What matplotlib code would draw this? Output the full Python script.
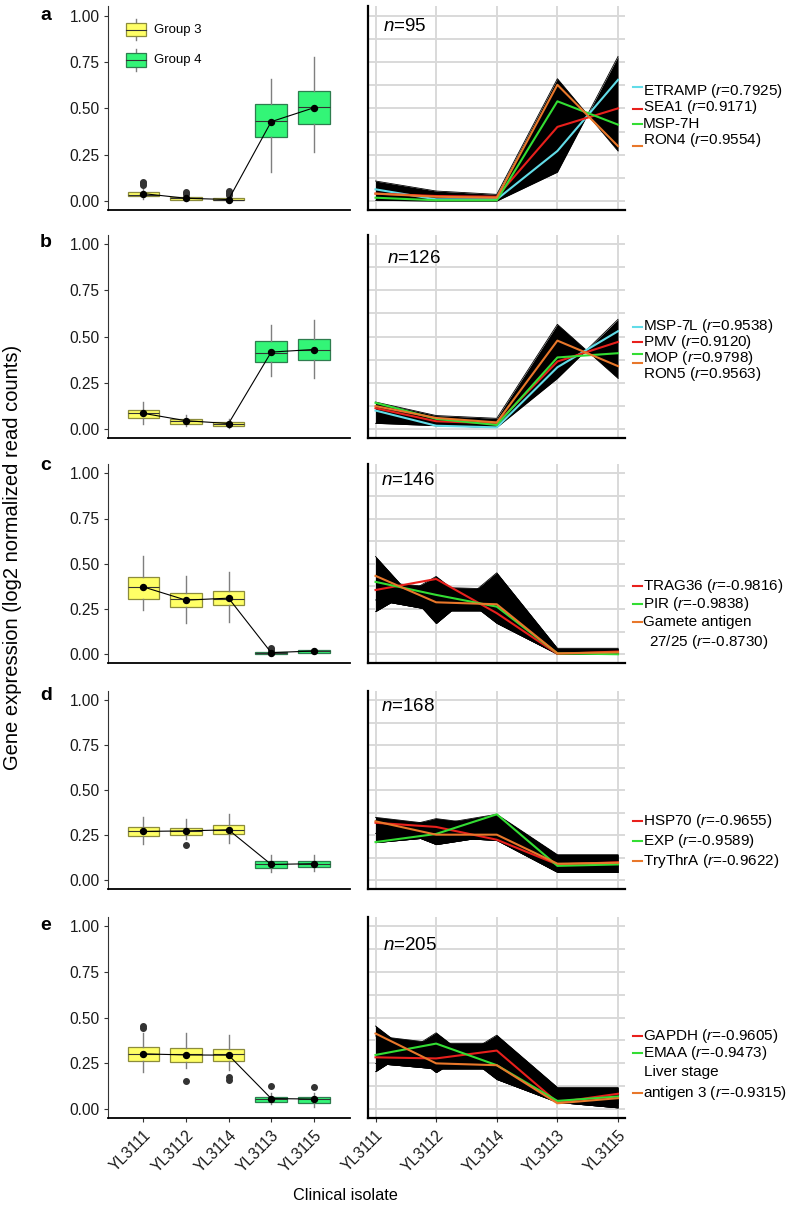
import matplotlib
matplotlib.use("Agg")
import matplotlib.pyplot as plt
from matplotlib.patches import Rectangle
from matplotlib.lines import Line2D
from itertools import combinations
import numpy as np

plt.rcParams['font.family'] = ['Liberation Sans', 'DejaVu Sans']
plt.rcParams['mathtext.fontset'] = 'custom'
plt.rcParams['mathtext.it'] = 'Liberation Sans:italic'
plt.rcParams['mathtext.rm'] = 'Liberation Sans'

W, H = 797, 1206

isolates = ['YL3111', 'YL3112', 'YL3114', 'YL3113', 'YL3115']
panel_ids = ['a', 'b', 'c', 'd', 'e']
gene_counts = [95, 126, 146, 168, 205]

# boxplot stats per isolate: (whisker low, q1, median, q3, whisker high)
box_a = [(0.01, 0.025, 0.035, 0.05, 0.075), (0.0, 0.008, 0.015, 0.022, 0.035),
         (0.0, 0.003, 0.008, 0.015, 0.025), (0.155, 0.344, 0.433, 0.523, 0.658),
         (0.266, 0.416, 0.506, 0.594, 0.779)]
out_a = [[0.085, 0.095, 0.105], [0.04, 0.048], [0.035, 0.045, 0.055], [], []]
mean_a = [0.04, 0.015, 0.008, 0.428, 0.503]

box_b = [(0.03, 0.06, 0.085, 0.103, 0.148), (0.014, 0.03, 0.043, 0.054, 0.078),
         (0.005, 0.014, 0.027, 0.04, 0.057), (0.289, 0.361, 0.41, 0.474, 0.564),
         (0.275, 0.374, 0.43, 0.486, 0.591)]
out_b = [[], [], [], [], []]
mean_b = [0.085, 0.045, 0.03, 0.416, 0.43]

box_c = [(0.244, 0.308, 0.369, 0.428, 0.545), (0.174, 0.261, 0.303, 0.339, 0.435),
         (0.178, 0.27, 0.306, 0.349, 0.453), (0.0, 0.004, 0.008, 0.015, 0.02),
         (0.005, 0.009, 0.017, 0.024, 0.03)]
out_c = [[], [], [], [0.025, 0.035], []]
mean_c = [0.372, 0.299, 0.31, 0.009, 0.018]

box_d = [(0.203, 0.245, 0.273, 0.297, 0.352), (0.227, 0.252, 0.273, 0.291, 0.341),
         (0.208, 0.256, 0.28, 0.304, 0.366), (0.048, 0.068, 0.088, 0.107, 0.14),
         (0.052, 0.072, 0.092, 0.107, 0.138)]
out_d = [[], [0.197], [], [], []]
mean_d = [0.271, 0.274, 0.28, 0.088, 0.092]

box_e = [(0.205, 0.264, 0.302, 0.338, 0.415), (0.227, 0.26, 0.302, 0.333, 0.418),
         (0.215, 0.265, 0.3, 0.327, 0.405), (0.03, 0.038, 0.055, 0.069, 0.087),
         (0.011, 0.035, 0.055, 0.069, 0.087)]
out_e = [[0.445, 0.455], [0.155], [0.16, 0.173], [0.124], [0.12]]
mean_e = [0.302, 0.296, 0.295, 0.058, 0.055]

# outer profiles of the black line bundles (n genes per cluster)
bundle_a = [[0.108, 0.054, 0.036, 0.66, 0.27], [0.004, 0.0, 0.0, 0.156, 0.78]]
bundle_b = [[0.146, 0.073, 0.058, 0.566, 0.274], [0.031, 0.018, 0.009, 0.274, 0.593]]
bundle_c = [[0.54, 0.17, 0.45, 0.033, 0.033], [0.236, 0.43, 0.171, 0.0, 0.0],
            [0.40, 0.37, 0.36, 0.02, 0.02], [0.30, 0.24, 0.24, 0.01, 0.015]]
bundle_d = [[0.349, 0.31, 0.366, 0.142, 0.142], [0.209, 0.24, 0.221, 0.044, 0.044],
            [0.26, 0.342, 0.30, 0.10, 0.10], [0.33, 0.198, 0.25, 0.08, 0.08]]
bundle_e = [[0.454, 0.20, 0.404, 0.119, 0.119], [0.205, 0.417, 0.162, 0.037, 0.007],
            [0.40, 0.36, 0.36, 0.10, 0.10], [0.25, 0.22, 0.22, 0.05, 0.03]]

# highlighted genes
cyan, red, green, orange = '#62DCE8', '#E8201C', '#33DD33', '#E8772A'
genes_a = [('ETRAMP', cyan, [0.063, 0.009, 0.009, 0.27, 0.654]),
           ('SEA1', red, [0.04, 0.027, 0.023, 0.40, 0.50]),
           ('MSP-7H', green, [0.018, 0.004, 0.004, 0.538, 0.412]),
           ('RON4', orange, [0.04, 0.023, 0.018, 0.627, 0.296])]
genes_b = [('MSP-7L', cyan, [0.10, 0.018, 0.009, 0.334, 0.529]),
           ('PMV', red, [0.113, 0.042, 0.031, 0.365, 0.471]),
           ('MOP', green, [0.142, 0.055, 0.022, 0.387, 0.41]),
           ('RON5', orange, [0.124, 0.06, 0.036, 0.478, 0.34])]
genes_c = [('TRAG36', red, [0.355, 0.416, 0.227, 0.002, 0.015]),
           ('PIR', green, [0.40, 0.328, 0.263, 0.005, 0.0]),
           ('Gamete antigen 27/25', orange, [0.433, 0.287, 0.276, 0.005, 0.011])]
genes_d = [('HSP70', red, [0.319, 0.296, 0.225, 0.088, 0.10]),
           ('EXP', green, [0.212, 0.257, 0.366, 0.08, 0.088]),
           ('TryThrA', orange, [0.327, 0.253, 0.253, 0.092, 0.097])]
genes_e = [('GAPDH', red, [0.283, 0.277, 0.32, 0.037, 0.084]),
           ('EMAA', green, [0.296, 0.358, 0.24, 0.045, 0.069]),
           ('Liver stage antigen 3', orange, [0.413, 0.25, 0.24, 0.032, 0.06])]

# legend text: (text, marker colour or None, text y px, marker y px, text x px)
legend_a = [('ETRAMP ($r$=0.7925)', cyan, 90.5, 87.3, 643),
            ('SEA1 ($r$=0.9171)', red, 107, 109.3, 643),
            ('MSP-7H', green, 123.5, 124, 643),
            ('RON4 ($r$=0.9554)', orange, 140, 146, 643)]
legend_b = [('MSP-7L ($r$=0.9538)', cyan, 326, 326.7, 643),
            ('PMV ($r$=0.9120)', red, 342, 342.3, 643),
            ('MOP ($r$=0.9798)', green, 358, 354, 643),
            ('RON5 ($r$=0.9563)', orange, 374, 363.3, 643)]
legend_c = [('TRAG36 ($r$=-0.9816)', red, 586, 586, 643),
            ('PIR ($r$=-0.9838)', green, 604.3, 604.3, 643),
            ('Gamete antigen', orange, 622.3, 622.3, 643),
            ('27/25 ($r$=-0.8730)', None, 641.7, 0, 649.3)]
legend_d = [('HSP70 ($r$=-0.9655)', red, 821, 821, 643),
            ('EXP ($r$=-0.9589)', green, 841, 841, 643),
            ('TryThrA ($r$=-0.9622)', orange, 861, 861, 643)]
legend_e = [('GAPDH ($r$=-0.9605)', red, 1036, 1036, 643),
            ('EMAA ($r$=-0.9473)', green, 1053.3, 1053.3, 643),
            ('Liver stage', None, 1071.7, 0, 644.3),
            ('antigen 3 ($r$=-0.9315)', orange, 1092.7, 1092.7, 643)]

boxes = [box_a, box_b, box_c, box_d, box_e]
outs = [out_a, out_b, out_c, out_d, out_e]
means = [mean_a, mean_b, mean_c, mean_d, mean_e]
bundles = [bundle_a, bundle_b, bundle_c, bundle_d, bundle_e]
genes = [genes_a, genes_b, genes_c, genes_d, genes_e]
legends = [legend_a, legend_b, legend_c, legend_d, legend_e]

# vertical extent of each row (px) and label positions
rows = [(6.4, 210.3), (234.8, 438.3), (464.2, 663.3), (691, 889.3), (916.9, 1118.3)]
letter_y = [20, 246.7, 470, 700, 930]
n_pos = [(383, 26.7), (386.7, 258.3), (380.7, 480.7), (380.7, 706.7), (382.7, 945)]

yellow, yellow_edge = '#FFFF66', '#8C8C3C'
grn, grn_edge = '#33F577', '#2E7D4F'
box_cols = [yellow] * 3 + [grn] * 2
edge_cols = [yellow_edge] * 3 + [grn_edge] * 2

TICK_FS = 11.2
LEG_FS = 11

fig = plt.figure(figsize=(W / 100, H / 100), dpi=100)


def px_axes(x0, y0, x1, y1):
    return fig.add_axes([x0 / W, 1 - y1 / H, (x1 - x0) / W, (y1 - y0) / H])


xs = np.arange(5)
for i in range(5):
    top, bot = rows[i]
    last = i == 4

    # left: boxplots
    axL = px_axes(108, top, 350, bot)
    stats = [dict(whislo=b[0], q1=b[1], med=b[2], q3=b[3], whishi=b[4], fliers=o)
             for b, o in zip(boxes[i], outs[i])]
    bp = axL.bxp(stats, positions=xs, widths=0.74, patch_artist=True, showcaps=False,
                 manage_ticks=False,
                 whiskerprops=dict(color='#7f7f7f', lw=1.0),
                 medianprops=dict(color='#333333', lw=0.8),
                 flierprops=dict(marker='o', mfc='#333333', mec='#333333', ms=4))
    for patch, fc, ec in zip(bp['boxes'], box_cols, edge_cols):
        patch.set_facecolor(fc)
        patch.set_edgecolor(ec)
        patch.set_linewidth(0.9)
    axL.plot(xs, means[i], color='black', lw=0.8, marker='o', ms=4.3, zorder=5)
    axL.set_xlim(-0.83, 4.85)
    axL.set_ylim(-0.05, 1.05)
    axL.set_yticks([0, 0.25, 0.5, 0.75, 1.0])
    axL.set_yticklabels(['0.00', '0.25', '0.50', '0.75', '1.00'])
    axL.spines[['top', 'right']].set_visible(False)
    axL.spines['left'].set_color('#333333')
    axL.spines['left'].set_linewidth(0.8)
    axL.spines['bottom'].set_linewidth(1.3)
    axL.tick_params(axis='y', length=3, color='#333333', labelsize=TICK_FS, labelcolor='#1a1a1a', pad=3)
    axL.set_xticks(xs)
    if last:
        axL.set_xticklabels(isolates, rotation=45, ha='right', rotation_mode='anchor')
        axL.tick_params(axis='x', length=3, color='#333333', labelsize=11.2, labelcolor='#1a1a1a', pad=4)
    else:
        axL.tick_params(axis='x', length=0, labelbottom=False)

    # right: expression profiles
    axR = px_axes(368, top, 625, bot)
    axR.set_xlim(-0.124, 4.115)
    axR.set_ylim(-0.05, 1.05)
    axR.set_yticks(np.arange(0, 1.01, 0.125))
    axR.set_xticks(xs)
    axR.grid(True, color='#D9D9D9', lw=1.4)
    axR.set_axisbelow(True)
    for p, q in combinations(bundles[i], 2):
        axR.fill_between(xs, p, q, color='black', lw=0, zorder=2)
    for p in bundles[i]:
        axR.plot(xs, p, color='black', lw=0.6, zorder=2)
    for name, col, vals in genes[i]:
        axR.plot(xs, vals, color=col, lw=1.5, zorder=3)
    axR.spines[['top', 'right']].set_visible(False)
    axR.spines['left'].set_linewidth(1.6)
    axR.spines['bottom'].set_linewidth(1.6)
    axR.tick_params(axis='y', length=0, labelleft=False)
    if last:
        axR.set_xticklabels(isolates, rotation=45, ha='right', rotation_mode='anchor')
        axR.tick_params(axis='x', length=3, color='#333333', labelsize=11.2, labelcolor='#1a1a1a', pad=4)
    else:
        axR.tick_params(axis='x', length=0, labelbottom=False)

    # panel letter and cluster size
    fig.text(40 / W, 1 - letter_y[i] / H, panel_ids[i], fontsize=14, fontweight='bold',
             ha='left', va='baseline')
    nx, ny = n_pos[i]
    fig.text(nx / W, 1 - ny / H, '$n$=%d' % gene_counts[i], fontsize=13.5, ha='left', va='center')

    # legend of highlighted genes
    for txt, col, ty, my, tx in legends[i]:
        if col is not None:
            fig.add_artist(Line2D([633 / W, 642 / W], [1 - my / H, 1 - my / H], color=col, lw=1.5))
        fig.text(tx / W, 1 - ty / H, txt, fontsize=LEG_FS, ha='left', va='center')

    # group legend in panel a
    if i == 0:
        for (y0, y1, ym, wl, wh, fc, ec, lab) in [
                (0.89, 0.96, 0.925, 0.87, 0.982, yellow, yellow_edge, 'Group 3'),
                (0.723, 0.799, 0.761, 0.70, 0.82, grn, grn_edge, 'Group 4')]:
            axL.plot([-0.17, -0.17], [wl, wh], color='#7f7f7f', lw=1.0, zorder=3)
            axL.add_patch(Rectangle((-0.406, y0), 0.469, y1 - y0, facecolor=fc, edgecolor=ec,
                                    lw=0.9, zorder=4))
            axL.plot([-0.406, 0.063], [ym, ym], color='#333333', lw=0.8, zorder=5)
            axL.text(0.25, ym, lab, fontsize=9.5, ha='left', va='center')

fig.text(13 / W, 1 - 557 / H, 'Gene expression (log2 normalized read counts)', rotation=90,
         fontsize=14.5, ha='center', va='center')
fig.text(345 / W, 1 - 1195 / H, 'Clinical isolate', fontsize=11.7, ha='center', va='center')

fig.savefig('out.png', dpi=100)
